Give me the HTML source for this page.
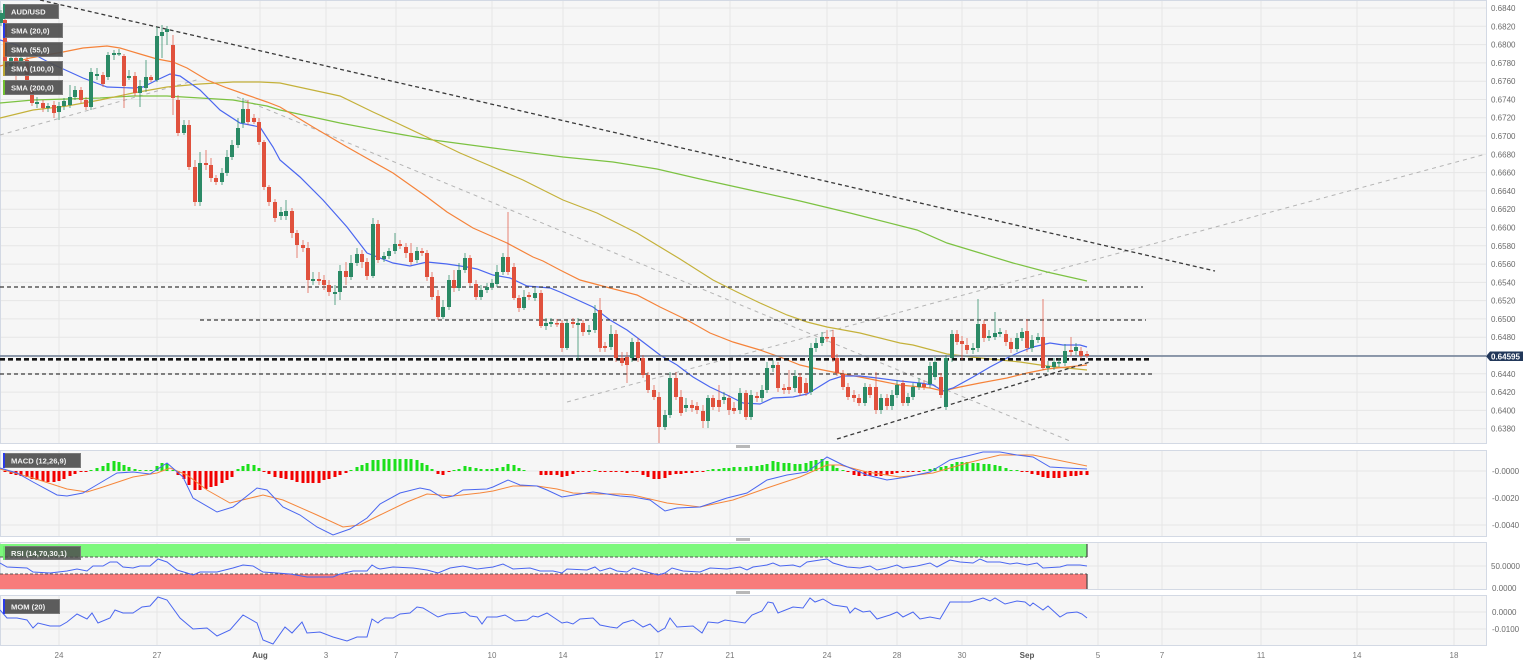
<!DOCTYPE html>
<html><head><meta charset="utf-8"><style>
html,body{margin:0;padding:0;background:#fff;width:1536px;height:664px;overflow:hidden}
svg{display:block;font-family:"Liberation Sans",Arial,sans-serif}
</style></head><body>
<svg width="1536" height="664" viewBox="0 0 1536 664" xmlns="http://www.w3.org/2000/svg">
<!-- panels -->
<rect x="0.5" y="0.5" width="1486" height="443" fill="#f6f6f6" stroke="#d3d9e4"/>
<rect x="0.5" y="450.5" width="1486" height="86" fill="#f6f6f6" stroke="#d3d9e4"/>
<rect x="0.5" y="542.5" width="1486" height="47" fill="#f6f6f6" stroke="#d3d9e4"/>
<rect x="0.5" y="595.5" width="1486" height="50" fill="#f6f6f6" stroke="#d3d9e4"/>
<!-- grid -->
<g stroke="#e6e6e6" stroke-width="1">
<path d="M1 8H1486M1 26.3H1486M1 44.6H1486M1 62.9H1486M1 81.2H1486M1 99.5H1486M1 117.7H1486M1 136H1486M1 154.3H1486M1 172.6H1486M1 190.9H1486M1 209.2H1486M1 227.5H1486M1 245.8H1486M1 264.1H1486M1 282.4H1486M1 300.6H1486M1 318.9H1486M1 337.2H1486M1 355.5H1486M1 373.8H1486M1 392.1H1486M1 410.4H1486M1 428.7H1486"/>
<path d="M1 471H1486M1 498H1486M1 525H1486M1 566H1486M1 612H1486M1 629H1486"/>
<path d="M59 1V443M157 1V443M260 1V443M326 1V443M396 1V443M492 1V443M563 1V443M659 1V443M730 1V443M827 1V443M897 1V443M962 1V443M1027 1V443M1098 1V443M1162 1V443M1261 1V443M1357 1V443M1454 1V443"/>
<path d="M59 451V536M157 451V536M260 451V536M326 451V536M396 451V536M492 451V536M563 451V536M659 451V536M730 451V536M827 451V536M897 451V536M962 451V536M1027 451V536M1098 451V536M1162 451V536M1261 451V536M1357 451V536M1454 451V536"/>
<path d="M59 543V589M157 543V589M260 543V589M326 543V589M396 543V589M492 543V589M563 543V589M659 543V589M730 543V589M827 543V589M897 543V589M962 543V589M1027 543V589M1098 543V589M1162 543V589M1261 543V589M1357 543V589M1454 543V589"/>
<path d="M59 596V645M157 596V645M260 596V645M326 596V645M396 596V645M492 596V645M563 596V645M659 596V645M730 596V645M827 596V645M897 596V645M962 596V645M1027 596V645M1098 596V645M1162 596V645M1261 596V645M1357 596V645M1454 596V645"/>
</g>
<!-- handles -->
<rect x="736" y="445" width="14" height="3" fill="#b8b8b8"/>
<rect x="736" y="538" width="14" height="3" fill="#b8b8b8"/>
<rect x="736" y="591" width="14" height="3" fill="#b8b8b8"/>

<!-- trend lines (light) -->
<g fill="none" stroke="#b4b4b4" stroke-width="1" stroke-dasharray="4 4">
<path d="M0 135L200 79"/>
<path d="M237 97L1070 441"/>
<path d="M567 402L1486 154"/>
</g>
<!-- SMAs -->
<g fill="none" stroke-width="1.2">
<polyline stroke="#7cc242" points="0,103 33,100 67,99 100,98 133,96 167,96 200,98 233,100 267,106 280,110 340,123 393,133 433,140 493,148 563,157 613,162 657,169 700,179 750,190 800,201 850,213 917,230 947,243 980,253 1013,263 1047,272 1087,281"/>
<polyline stroke="#c4b13a" points="0,118 33,110 67,106 100,100 133,93 167,87 200,84 233,82 260,82 280,83 340,96 373,112 397,123 433,140 460,153 493,167 523,180 563,200 597,213 637,233 680,259 713,280 737,292 760,303 787,315 807,322 827,327 860,333 900,343 913,345 947,354 980,358 1020,362 1047,366 1067,368 1087,370"/>
<polyline stroke="#f5833a" points="0,66 30,58 63,52 83,48 107,46 120,48 140,54 157,59 173,62 187,68 207,80 227,88 247,95 267,102 280,107 313,127 347,147 393,173 427,197 447,212 473,228 507,243 533,257 543,261 560,270 580,280 610,288 637,295 660,307 687,320 710,333 733,342 760,350 780,357 800,365 813,368 833,372 860,377 880,381 900,385 930,388 943,391 960,387 980,383 1007,378 1027,373 1047,369 1067,367 1087,365"/>
<polyline stroke="#4a66f0" points="0,40 17,45 50,63 83,78 107,87 133,88 143,87 157,80 170,74 180,76 200,90 220,110 240,123 260,127 273,147 280,160 300,177 323,200 347,227 367,253 393,263 410,266 427,262 447,264 467,267 477,269 493,275 510,278 527,286 550,288 560,292 593,307 610,320 627,330 643,342 660,355 677,365 693,377 710,387 727,395 743,403 760,404 773,398 793,397 807,394 817,388 830,380 843,376 860,376 877,378 900,381 920,383 933,385 943,391 953,388 973,377 990,367 1007,358 1020,352 1033,347 1050,343 1063,345 1080,345 1087,347"/>
</g>
<!-- dark trend lines -->
<g fill="none" stroke="#3a3a3a" stroke-width="1.3" stroke-dasharray="4 3">
<path d="M40 0L1215 271"/>
<path d="M0 287H1143"/>
<path d="M200 320H1146"/>
<path d="M0 374H1155"/>
<path d="M837 439L1090 362"/>
</g>
<path d="M0 356H1486" stroke="#6b7b93" stroke-width="1.5"/>
<path d="M0 359.3H1150" stroke="#111" stroke-width="2.6" stroke-dasharray="5 3" fill="none"/>

<!-- candles -->
<path fill="none" stroke="#2b8a66" stroke-width="1" opacity="0.75" d="M1 10V26M11 55V70M21 52V65M37 97V108M48 103V112M59 102V120M64 98V110M70 85V108M75 86V100M91 68V110M97 68V80M108 52V80M114 50V60M119 49V56M129 70V80M140 80V107M146 60V92M157 27V82M162 25V58M167 26V45M184 120V135M200 152V206M222 168V185M227 150V176M232 140V160M238 118V148M243 98V128M281 207V220M286 200V220M313 272V285M335 285V305M340 265V300M351 255V280M357 248V266M373 218V278M384 252V262M389 248V259M395 233V254M417 247V263M443 300V319M449 275V310M459 263V291M465 253V273M481 285V300M487 283V293M492 279V290M497 265V287M503 253V275M524 290V310M535 288V301M546 318V330M551 318V327M567 320V350M578 318V360M589 325V335M595 305V333M611 325V350M632 338V362M665 410V430M670 372V418M686 398V412M708 395V428M724 392V404M740 388V414M751 390V420M762 385V402M767 362V393M773 360V372M795 370V392M811 343V395M816 338V352M822 332V346M865 383V406M881 394V414M892 390V410M897 380V398M908 393V406M913 383V400M919 378V390M930 362V388M935 357V380M946 355V410M952 330V362M973 343V354M978 299V352M989 330V341M995 312V340M1000 328V337M1017 333V352M1022 328V341M1032 335V352M1038 333V343M1048 361V372M1054 358V370M1059 358V367M1065 344V366M1076 343V355"/>
<path fill="#2b8a66" d="M-1 13h4V23h-4ZM9 58h4V66h-4ZM19 58h4V62h-4ZM35 102h4V104h-4ZM46 106h4V108h-4ZM57 106h4V112h-4ZM62 101h4V106h-4ZM68 97h4V105h-4ZM73 90h4V97h-4ZM89 72h4V107h-4ZM95 74h4V76h-4ZM106 55h4V77h-4ZM112 53h4V55h-4ZM117 53h4V54.5h-4ZM127 76h4V78h-4ZM138 86h4V93h-4ZM144 77h4V88h-4ZM155 36h4V80h-4ZM160 32h4V36h-4ZM165 29h4V32h-4ZM182 125h4V133h-4ZM198 163h4V202h-4ZM220 173h4V182h-4ZM225 157h4V173h-4ZM230 145h4V157h-4ZM236 128h4V145h-4ZM241 109h4V123h-4ZM279 212h4V216h-4ZM284 211h4V216h-4ZM311 279h4V281h-4ZM333 292h4V294h-4ZM338 271h4V292h-4ZM349 263h4V277h-4ZM355 254h4V263h-4ZM371 224h4V276h-4ZM382 256h4V259h-4ZM387 251h4V256h-4ZM393 244h4V251h-4ZM415 251h4V260h-4ZM441 307h4V317h-4ZM447 280h4V307h-4ZM457 270h4V288h-4ZM463 258h4V270h-4ZM479 290h4V297h-4ZM485 287h4V290h-4ZM490 283h4V287h-4ZM495 272h4V284h-4ZM501 257h4V272h-4ZM522 297h4V308h-4ZM533 293h4V298h-4ZM544 323h4V326h-4ZM549 322h4V324h-4ZM565 323h4V348h-4ZM576 323h4V325h-4ZM587 330h4V332h-4ZM593 313h4V330h-4ZM609 334h4V347h-4ZM630 342h4V358h-4ZM663 415h4V427h-4ZM668 378h4V415h-4ZM684 405h4V408h-4ZM706 398h4V421h-4ZM722 397h4V400h-4ZM738 393h4V410h-4ZM749 395h4V417h-4ZM760 390h4V398h-4ZM765 368h4V390h-4ZM771 365h4V368h-4ZM793 376h4V388h-4ZM809 348h4V392h-4ZM814 343h4V348h-4ZM820 337h4V343h-4ZM863 387h4V403h-4ZM879 398h4V410h-4ZM890 395h4V406h-4ZM895 385h4V395h-4ZM906 397h4V403h-4ZM911 387h4V397h-4ZM917 383h4V387h-4ZM928 366h4V384h-4ZM933 362h4V377h-4ZM944 358h4V407h-4ZM950 334h4V358h-4ZM971 348h4V350h-4ZM976 324h4V348h-4ZM987 336h4V338h-4ZM993 333h4V337h-4ZM998 332h4V334h-4ZM1015 338h4V349h-4ZM1020 332h4V338h-4ZM1030 340h4V348h-4ZM1036 337h4V340h-4ZM1046 366h4V368h-4ZM1052 362h4V367h-4ZM1057 362h4V363.5h-4ZM1063 351h4V363h-4ZM1074 347h4V351h-4Z"/>
<path fill="none" stroke="#e0513d" stroke-width="1" opacity="0.7" d="M5 18V70M16 55V82M27 57V82M32 88V106M43 100V112M54 101V118M81 87V103M86 97V110M103 72V87M124 54V108M135 72V96M151 75V82M173 35V115M178 95V136M189 120V170M195 160V206M206 150V170M211 158V182M216 175V185M248 100V125M254 114V124M259 118V145M264 140V190M269 185V206M275 199V222M292 208V238M297 230V258M303 240V252M308 242V293M319 272V285M324 275V290M329 280V296M346 262V285M362 250V268M367 258V280M378 220V263M400 240V249M406 243V258M411 243V265M422 248V256M427 250V281M432 272V300M438 290V320M454 270V292M470 255V286M476 280V300M508 212V275M514 263V300M519 295V312M529 292V300M541 290V328M557 319V327M562 320V352M573 318V328M583 320V336M600 298V352M605 342V352M616 330V362M622 352V366M627 352V383M638 338V362M643 355V378M648 372V393M654 385V400M659 392V443M676 372V400M681 390V416M692 400V412M697 402V414M703 405V428M713 395V410M719 385V412M729 395V415M734 402V414M746 390V420M757 392V402M778 362V392M784 384V394M789 370V394M800 373V396M806 378V396M827 330V342M833 330V362M837 354V376M843 370V390M848 383V400M854 390V402M859 394V406M870 384V398M876 372V414M887 394V410M903 380V406M924 380V390M941 373V398M957 330V345M962 336V360M967 338V354M984 320V342M1006 330V346M1011 338V353M1027 319V352M1043 299V370M1071 337V356M1081 347V359M1087 351V358"/>
<path fill="#e0513d" d="M3 20h4V67h-4ZM14 58h4V64h-4ZM25 60h4V80h-4ZM30 90h4V103h-4ZM41 103h4V108h-4ZM52 105h4V113h-4ZM79 90h4V100h-4ZM84 100h4V107h-4ZM101 75h4V84h-4ZM122 56h4V86h-4ZM133 76h4V93h-4ZM149 77h4V80h-4ZM171 45h4V98h-4ZM176 100h4V133h-4ZM187 125h4V167h-4ZM193 167h4V202h-4ZM204 163h4V165h-4ZM209 165h4V178h-4ZM214 178h4V182h-4ZM246 109h4V122h-4ZM252 118h4V122h-4ZM257 122h4V142h-4ZM262 142h4V187h-4ZM267 187h4V202h-4ZM273 202h4V218h-4ZM290 211h4V233h-4ZM295 233h4V245h-4ZM301 245h4V248h-4ZM306 248h4V280h-4ZM317 279h4V281h-4ZM322 280h4V285h-4ZM327 285h4V292h-4ZM344 271h4V277h-4ZM360 254h4V262h-4ZM365 262h4V276h-4ZM376 224h4V260h-4ZM398 244h4V246h-4ZM404 247h4V253h-4ZM409 253h4V262h-4ZM420 251h4V253h-4ZM425 253h4V277h-4ZM430 277h4V297h-4ZM436 296h4V317h-4ZM452 280h4V288h-4ZM468 258h4V283h-4ZM474 284h4V297h-4ZM506 257h4V272h-4ZM512 267h4V298h-4ZM517 298h4V308h-4ZM527 295h4V297h-4ZM539 293h4V326h-4ZM555 323h4V324.5h-4ZM560 323h4V348h-4ZM571 322h4V324h-4ZM581 323h4V332h-4ZM598 310h4V348h-4ZM603 346h4V348h-4ZM614 334h4V358h-4ZM620 358h4V363h-4ZM625 357h4V365h-4ZM636 342h4V358h-4ZM641 358h4V375h-4ZM646 375h4V390h-4ZM652 390h4V397h-4ZM657 397h4V427h-4ZM674 378h4V397h-4ZM679 397h4V413h-4ZM690 405h4V408h-4ZM695 406h4V410h-4ZM701 411h4V421h-4ZM711 398h4V407h-4ZM717 400h4V407h-4ZM727 398h4V410h-4ZM732 408h4V411h-4ZM744 393h4V417h-4ZM755 396h4V398h-4ZM776 365h4V388h-4ZM782 388h4V390h-4ZM787 387h4V390h-4ZM798 377h4V393h-4ZM804 383h4V393h-4ZM825 337h4V338.5h-4ZM831 337h4V358h-4ZM835 358h4V373h-4ZM841 374h4V387h-4ZM846 387h4V397h-4ZM852 395h4V398h-4ZM857 398h4V403h-4ZM868 387h4V395h-4ZM874 387h4V410h-4ZM885 398h4V406h-4ZM901 383h4V403h-4ZM922 384h4V387h-4ZM939 377h4V395h-4ZM955 334h4V342h-4ZM960 341h4V344h-4ZM965 345h4V350h-4ZM982 324h4V338h-4ZM1004 334h4V342h-4ZM1009 342h4V349h-4ZM1025 331h4V348h-4ZM1041 337h4V368h-4ZM1069 350h4V352h-4ZM1079 351h4V356h-4ZM1085 354h4V356h-4Z"/>

<!-- legend boxes main -->
<g font-size="7.6" font-weight="bold" fill="#f2f2f2">
<rect x="3.5" y="4.5" width="55" height="14" fill="#4e4e4e" fill-opacity="0.92" stroke="#7a7a7a"/><rect x="3" y="4" width="2" height="15" fill="#2b8a66"/><text x="11" y="14.5">AUD/USD</text>
<rect x="3.5" y="23.5" width="59" height="14" fill="#4e4e4e" fill-opacity="0.92" stroke="#7a7a7a"/><rect x="3" y="23" width="2" height="15" fill="#2a3ae8"/><text x="11" y="33.5">SMA (20,0)</text>
<rect x="3.5" y="42.5" width="59" height="14" fill="#4e4e4e" fill-opacity="0.92" stroke="#7a7a7a"/><rect x="3" y="42" width="2" height="15" fill="#f07a2a"/><text x="11" y="52.5">SMA (55,0)</text>
<rect x="3.5" y="61.5" width="59" height="14" fill="#4e4e4e" fill-opacity="0.92" stroke="#7a7a7a"/><rect x="3" y="61" width="2" height="15" fill="#b9a635"/><text x="11" y="71.5">SMA (100,0)</text>
<rect x="3.5" y="80.5" width="59" height="14" fill="#4e4e4e" fill-opacity="0.92" stroke="#7a7a7a"/><rect x="3" y="80" width="2" height="15" fill="#70c030"/><text x="11" y="90.5">SMA (200,0)</text>
</g>

<!-- MACD histogram -->
<path fill="#1be01b" d="M89.5 470h3V471h-3ZM95.5 468h3V471h-3ZM101.5 466h3V471h-3ZM106.5 463h3V471h-3ZM112.5 461h3V471h-3ZM117.5 462h3V471h-3ZM122.5 465h3V471h-3ZM127.5 467h3V471h-3ZM133.5 469h3V471h-3ZM138.5 470h3V471h-3ZM144.5 470h3V471h-3ZM149.5 470h3V471h-3ZM155.5 466h3V471h-3ZM160.5 463h3V471h-3ZM165.5 464h3V471h-3ZM171.5 470h3V471h-3ZM236.5 469h3V471h-3ZM241.5 466h3V471h-3ZM246.5 464h3V471h-3ZM252.5 465h3V471h-3ZM257.5 468h3V471h-3ZM349.5 470h3V471h-3ZM355.5 467h3V471h-3ZM360.5 465h3V471h-3ZM365.5 463h3V471h-3ZM371.5 460h3V471h-3ZM376.5 460h3V471h-3ZM382.5 459h3V471h-3ZM387.5 459h3V471h-3ZM393.5 459h3V471h-3ZM398.5 459h3V471h-3ZM404.5 459h3V471h-3ZM409.5 459h3V471h-3ZM415.5 460h3V471h-3ZM420.5 463h3V471h-3ZM425.5 465h3V471h-3ZM430.5 469h3V471h-3ZM452.5 470h3V471h-3ZM457.5 469h3V471h-3ZM463.5 466h3V471h-3ZM468.5 467h3V471h-3ZM474.5 468h3V471h-3ZM479.5 469h3V471h-3ZM485.5 469h3V471h-3ZM490.5 469h3V471h-3ZM495.5 468h3V471h-3ZM501.5 467h3V471h-3ZM506.5 464h3V471h-3ZM512.5 465h3V471h-3ZM517.5 468h3V471h-3ZM522.5 470h3V471h-3ZM593.5 470h3V471h-3ZM706.5 470h3V471h-3ZM711.5 469h3V471h-3ZM717.5 469h3V471h-3ZM722.5 468h3V471h-3ZM727.5 468h3V471h-3ZM732.5 467h3V471h-3ZM738.5 467h3V471h-3ZM744.5 467h3V471h-3ZM749.5 466h3V471h-3ZM755.5 466h3V471h-3ZM760.5 465h3V471h-3ZM765.5 464h3V471h-3ZM771.5 461h3V471h-3ZM776.5 462h3V471h-3ZM782.5 463h3V471h-3ZM787.5 463h3V471h-3ZM793.5 464h3V471h-3ZM798.5 464h3V471h-3ZM804.5 463h3V471h-3ZM809.5 461h3V471h-3ZM814.5 460h3V471h-3ZM820.5 459h3V471h-3ZM825.5 461h3V471h-3ZM831.5 465h3V471h-3ZM835.5 468h3V471h-3ZM841.5 470h3V471h-3ZM922.5 470h3V471h-3ZM928.5 469h3V471h-3ZM933.5 468h3V471h-3ZM939.5 467h3V471h-3ZM944.5 466h3V471h-3ZM950.5 464h3V471h-3ZM955.5 462h3V471h-3ZM960.5 462h3V471h-3ZM965.5 462h3V471h-3ZM971.5 463h3V471h-3ZM976.5 463h3V471h-3ZM982.5 464h3V471h-3ZM987.5 464h3V471h-3ZM993.5 465h3V471h-3ZM998.5 466h3V471h-3ZM1004.5 468h3V471h-3ZM1009.5 470h3V471h-3ZM1015.5 470h3V471h-3Z"/>
<path fill="#f20000" d="M3.5 471h3V472h-3ZM9.5 471h3V474h-3ZM14.5 471h3V475h-3ZM19.5 471h3V476h-3ZM25.5 471h3V477h-3ZM30.5 471h3V479h-3ZM35.5 471h3V480h-3ZM41.5 471h3V481h-3ZM46.5 471h3V482h-3ZM52.5 471h3V482h-3ZM57.5 471h3V481h-3ZM62.5 471h3V479h-3ZM68.5 471h3V476h-3ZM73.5 471h3V474h-3ZM79.5 471h3V472h-3ZM84.5 471h3V472h-3ZM176.5 471h3V475h-3ZM182.5 471h3V479h-3ZM187.5 471h3V485h-3ZM193.5 471h3V490h-3ZM198.5 471h3V490h-3ZM204.5 471h3V489h-3ZM209.5 471h3V487h-3ZM214.5 471h3V486h-3ZM220.5 471h3V483h-3ZM225.5 471h3V480h-3ZM230.5 471h3V477h-3ZM262.5 471h3V472h-3ZM267.5 471h3V474h-3ZM273.5 471h3V477h-3ZM279.5 471h3V478h-3ZM284.5 471h3V479h-3ZM290.5 471h3V480h-3ZM295.5 471h3V482h-3ZM301.5 471h3V483h-3ZM306.5 471h3V483h-3ZM311.5 471h3V483h-3ZM317.5 471h3V483h-3ZM322.5 471h3V480h-3ZM327.5 471h3V479h-3ZM333.5 471h3V477h-3ZM338.5 471h3V475h-3ZM344.5 471h3V473h-3ZM436.5 471h3V474h-3ZM441.5 471h3V475h-3ZM447.5 471h3V472h-3ZM539.5 471h3V475h-3ZM544.5 471h3V475h-3ZM549.5 471h3V475h-3ZM555.5 471h3V475h-3ZM560.5 471h3V477h-3ZM565.5 471h3V476h-3ZM571.5 471h3V474h-3ZM576.5 471h3V472h-3ZM581.5 471h3V472h-3ZM587.5 471h3V472h-3ZM598.5 471h3V472h-3ZM603.5 471h3V472h-3ZM609.5 471h3V472h-3ZM614.5 471h3V472h-3ZM620.5 471h3V472h-3ZM625.5 471h3V473h-3ZM631.5 471h3V472h-3ZM635.5 471h3V472h-3ZM641.5 471h3V475h-3ZM646.5 471h3V477h-3ZM652.5 471h3V479h-3ZM657.5 471h3V479h-3ZM663.5 471h3V478h-3ZM668.5 471h3V475h-3ZM674.5 471h3V474h-3ZM679.5 471h3V474h-3ZM684.5 471h3V473h-3ZM690.5 471h3V473h-3ZM695.5 471h3V472h-3ZM701.5 471h3V472h-3ZM846.5 471h3V472h-3ZM852.5 471h3V475h-3ZM857.5 471h3V476h-3ZM863.5 471h3V476h-3ZM868.5 471h3V476h-3ZM874.5 471h3V476h-3ZM879.5 471h3V476h-3ZM885.5 471h3V475h-3ZM890.5 471h3V474h-3ZM895.5 471h3V473h-3ZM901.5 471h3V472h-3ZM906.5 471h3V472h-3ZM911.5 471h3V472h-3ZM917.5 471h3V472h-3ZM1020.5 471h3V472h-3ZM1025.5 471h3V472h-3ZM1030.5 471h3V474h-3ZM1036.5 471h3V475h-3ZM1041.5 471h3V477h-3ZM1046.5 471h3V478h-3ZM1052.5 471h3V478h-3ZM1057.5 471h3V478h-3ZM1063.5 471h3V477h-3ZM1069.5 471h3V476h-3ZM1074.5 471h3V476h-3ZM1079.5 471h3V475h-3ZM1085.5 471h3V475h-3Z"/>
<g fill="none" stroke-width="1">
<polyline stroke="#f5873c" points="0,469 33,478 67,489 87,492 100,488 133,477 157,473 170,468 187,475 207,490 230,503 263,495 283,500 317,515 343,527 360,525 380,515 407,502 427,494 453,496 480,493 493,491 513,486 537,486 557,489 573,493 597,494 620,494 633,495 667,503 700,507 733,500 767,488 800,477 827,465 840,465 867,472 900,477 933,473 967,463 1000,455 1033,455 1067,462 1087,466"/>
<polyline stroke="#4a66f0" points="0,468 17,473 33,482 57,495 67,496 83,493 100,483 117,473 133,472 150,474 167,463 183,477 193,498 217,512 233,507 257,488 267,490 283,507 300,515 317,527 333,535 350,529 367,518 380,504 400,493 420,488 430,490 443,498 453,496 463,490 487,489 493,487 508,480 520,485 537,486 547,490 562,497 580,494 593,492 607,494 620,496 633,497 650,500 665,511 677,508 700,507 727,498 747,493 767,480 787,475 807,472 827,457 843,465 867,475 887,480 907,477 930,472 950,460 967,456 983,452 1000,452 1017,455 1033,457 1050,467 1067,468 1087,469"/>
</g>

<!-- RSI bands -->
<rect x="0" y="544" width="1087" height="13" fill="#7df87d"/>
<rect x="0" y="574" width="1087" height="15" fill="#f87b7b"/>
<path d="M0 557H1087M0 574H1087" stroke="#555" stroke-width="1" stroke-dasharray="3 2"/>
<path d="M1087 544V557M1087 574V589" stroke="#444" stroke-width="1.2"/>
<polyline fill="none" stroke="#4a66f0" stroke-width="1" points="0,563 7,567 27,568 33,572 50,573 67,571 77,569 87,571 93,566 103,566 110,562 117,562 123,567 133,568 140,566 150,566 158,559 167,562 177,570 187,573 193,575 200,572 217,572 233,568 243,565 253,566 263,572 277,573 290,574 307,577 320,577 333,577 340,574 353,571 367,571 372,565 377,568 380,569 393,567 413,568 427,570 438,573 450,568 463,566 477,569 493,567 503,564 513,569 530,568 540,571 553,571 562,573 567,569 587,570 595,567 600,571 610,568 617,571 627,572 633,568 643,571 658,575 665,573 672,568 683,571 700,572 710,568 727,569 740,567 747,570 753,567 767,565 773,563 780,566 793,565 800,567 807,562 820,560 827,559 833,563 847,567 860,568 870,566 877,570 887,568 897,565 903,568 917,566 930,563 937,567 950,560 960,562 973,563 980,559 987,562 1000,562 1010,564 1017,563 1027,565 1037,563 1043,568 1060,567 1067,565 1080,565 1087,566"/>

<!-- MOM -->
<polyline fill="none" stroke="#4a66f0" stroke-width="1" points="0,610 7,618 17,618 27,620 33,628 38,623 50,626 60,626 67,622 77,614 87,619 92,613 98,623 110,618 115,610 123,613 133,613 142,607 150,606 158,597 167,600 180,618 193,629 207,628 217,636 230,630 243,615 257,623 263,640 273,644 285,627 292,633 302,622 307,633 320,632 333,637 347,641 357,637 367,637 372,619 378,623 380,621 385,618 393,618 400,614 410,613 417,607 423,608 438,617 447,614 460,613 465,612 470,616 477,617 482,624 487,617 497,617 505,615 515,621 527,620 533,616 538,617 547,613 553,617 562,623 567,622 573,624 580,619 593,618 600,625 610,627 617,628 623,623 633,620 643,627 650,624 658,632 665,628 670,618 677,627 693,626 702,633 708,622 718,623 725,620 745,623 752,615 762,611 768,602 773,603 778,613 793,607 803,608 810,598 815,602 823,599 833,605 847,607 850,613 855,608 863,612 870,611 877,619 890,615 897,612 903,617 913,612 920,619 930,617 940,619 950,602 960,602 970,602 983,598 990,601 995,598 1005,604 1017,601 1025,602 1030,606 1033,603 1043,610 1048,606 1060,617 1067,613 1077,612 1082,614 1087,618"/>

<!-- indicator legends -->
<g font-size="7.6" font-weight="bold" fill="#f2f2f2">
<rect x="3.5" y="453.5" width="77" height="14" fill="#4e4e4e" fill-opacity="0.92" stroke="#7a7a7a"/><rect x="3" y="453" width="2" height="15" fill="#2a3ae8"/><text x="11" y="463.5">MACD (12,26,9)</text>
<rect x="3.5" y="546.5" width="77" height="13" fill="#4e4e4e" fill-opacity="0.85" stroke="#7a7a7a"/><rect x="3" y="546" width="2" height="14" fill="#6fe86f"/><text x="11" y="556">RSI (14,70,30,1)</text>
<rect x="3.5" y="599.5" width="56" height="14" fill="#4e4e4e" fill-opacity="0.92" stroke="#7a7a7a"/><rect x="3" y="599" width="2" height="15" fill="#2a3ae8"/><text x="11" y="609.5">MOM (20)</text>
</g>

<!-- right axis labels -->
<g font-size="8" fill="#6a6a6a">
<text x="1491" y="11">0.6840</text><text x="1491" y="29.3">0.6820</text><text x="1491" y="47.6">0.6800</text><text x="1491" y="65.9">0.6780</text><text x="1491" y="84.2">0.6760</text><text x="1491" y="102.5">0.6740</text><text x="1491" y="120.7">0.6720</text><text x="1491" y="139">0.6700</text><text x="1491" y="157.3">0.6680</text><text x="1491" y="175.6">0.6660</text><text x="1491" y="193.9">0.6640</text><text x="1491" y="212.2">0.6620</text><text x="1491" y="230.5">0.6600</text><text x="1491" y="248.8">0.6580</text><text x="1491" y="267.1">0.6560</text><text x="1491" y="285.4">0.6540</text><text x="1491" y="303.6">0.6520</text><text x="1491" y="321.9">0.6500</text><text x="1491" y="340.2">0.6480</text><text x="1491" y="376.8">0.6440</text><text x="1491" y="395.1">0.6420</text><text x="1491" y="413.4">0.6400</text><text x="1491" y="431.7">0.6380</text>
<text x="1492" y="474">-0.0000</text><text x="1492" y="501">-0.0020</text><text x="1492" y="528">-0.0040</text>
<text x="1491" y="569">50.0000</text><text x="1492" y="591">0.0000</text>
<text x="1492" y="615">0.0000</text><text x="1492" y="632">-0.0100</text>
</g>
<!-- price tag -->
<path d="M1486 356.3L1490 351.5H1523V361H1490Z" fill="#22385a"/>
<text x="1491" y="359.5" font-size="8" font-weight="bold" fill="#fff">0.64595</text>

<!-- x axis labels -->
<g font-size="8" fill="#777" text-anchor="middle">
<text x="59" y="658">24</text><text x="157" y="658">27</text><text x="260" y="658" font-weight="bold" fill="#555">Aug</text><text x="326" y="658">3</text><text x="396" y="658">7</text><text x="492" y="658">10</text><text x="563" y="658">14</text><text x="659" y="658">17</text><text x="730" y="658">21</text><text x="827" y="658">24</text><text x="897" y="658">28</text><text x="962" y="658">30</text><text x="1027" y="658" font-weight="bold" fill="#555">Sep</text><text x="1098" y="658">5</text><text x="1162" y="658">7</text><text x="1261" y="658">11</text><text x="1357" y="658">14</text><text x="1454" y="658">18</text>
</g>
</svg>
</body></html>
